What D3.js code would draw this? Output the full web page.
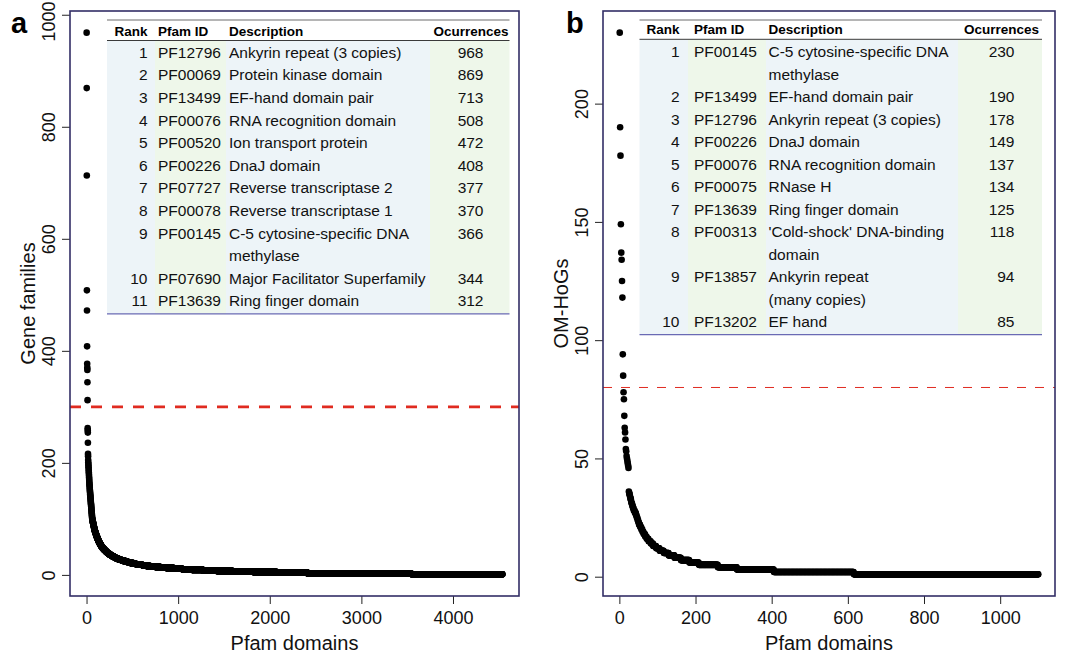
<!DOCTYPE html>
<html><head><meta charset="utf-8">
<script src="https://cdn.jsdelivr.net/npm/d3@7"></script>
<style>body{margin:0;background:#fff}svg{display:block;font-family:"Liberation Sans",Arial,sans-serif}</style>
</head><body><svg id="c" width="1072" height="655"></svg>
<script>
// ---------- DATA ----------
// Panel a: table (top 11 Pfam domains by gene families)
const tableARank = [1,2,3,4,5,6,7,8,9,10,11];
const tableAPfam = ["PF12796","PF00069","PF13499","PF00076","PF00520","PF00226","PF07727","PF00078","PF00145","PF07690","PF13639"];
const tableADesc = ["Ankyrin repeat (3 copies)","Protein kinase domain","EF-hand domain pair","RNA recognition domain","Ion transport protein","DnaJ domain","Reverse transcriptase 2","Reverse transcriptase 1","C-5 cytosine-specific DNA\nmethylase","Major Facilitator Superfamily","Ring finger domain"];
const tableAOcc = [968,869,713,508,472,408,377,370,366,344,312];
// Panel a: further ranked values visible as separate points
const extraATop = [262,258,254,236,216,212];
// Panel a: dense tail as (value, number of domains with that value)
const tailAValues = [205,201,198,195,192,189,186,183,180,177,174,171,168,165,162,160,157,155,152,150,
  148,146,144,142,140,138,136,134,132,130,128,126,124,122,120,118,116,114,112,110,108,106,104,102,100,
  99,98,97,96,95,94,93,92,91,90,89,88,87,86,85,84,83,82,81,80,
  79,78,77,76,75,74,73,72,71,70,69,68,67,66,65,64,63,62,61,60,
  59,58,57,56,55,54,53,52,51,50,
  49,48,47,46,45,44,43,42,41,40,
  39,38,37,36,35,34,33,32,31,30,
  29,28,27,26,25,24,23,22,21,20,
  19,18,17,16,15,14,13,12,11,10,
  9,8,7,6,5,4,3,2,1];
const tailACounts = [1,1,1,1,1,1,1,1,1,1,1,1,1,1,1,1,1,1,1,1,
  1,1,1,1,1,1,1,1,1,1,1,1,1,1,1,1,1,1,1,1,1,1,1,1,2,
  1,1,1,1,2,1,1,2,1,1,2,1,1,2,1,1,2,1,1,2,
  2,2,2,2,2,2,2,2,2,2,2,3,2,3,2,3,2,3,2,3,
  3,3,4,3,4,3,4,3,4,4,
  5,5,6,6,6,6,6,6,7,7,
  8,8,9,9,10,10,11,11,12,12,
  15,17,18,19,21,20,22,24,26,28,
  33,37,42,46,52,60,68,78,90,104,
  120,150,180,220,260,330,440,700,990];

// Panel b: table (top 10 Pfam domains by OM-HoGs)
const tableBRank = [1,2,3,4,5,6,7,8,9,10];
const tableBPfam = ["PF00145","PF13499","PF12796","PF00226","PF00076","PF00075","PF13639","PF00313","PF13857","PF13202"];
const tableBDesc = ["C-5 cytosine-specific DNA\nmethylase","EF-hand domain pair","Ankyrin repeat (3 copies)","DnaJ domain","RNA recognition domain","RNase H","Ring finger domain","'Cold-shock' DNA-binding\ndomain","Ankyrin repeat\n(many copies)","EF hand"];
const tableBOcc = [230,190,178,149,137,134,125,118,94,85];
const extraBTop = [78,75,68,63,61,58,54,53,51,50,49,48,47,46];
const tailBValues = [36,35,34,33,32,31,30,29,28,27,26,25,24,23,22,21,20,19,18,17,16,15,14,13,12,11,10,9,8,7,6,5,4,3,2,1];
const tailBCounts = [1,2,1,2,1,2,2,2,3,3,2,2,2,2,3,3,3,3,4,4,5,6,6,8,9,11,13,15,17,22,25,50,50,97,210,485];

// Axis ticks / labels / thresholds
const xTicksA = [0,1000,2000,3000,4000];
const yTicksA = [0,200,400,600,800,1000];
const xTicksB = [0,200,400,600,800,1000];
const yTicksB = [0,50,100,150,200];
const thresholdA = 300;
const thresholdB = 80;
const xTitle = "Pfam domains";
const yTitleA = "Gene families";
const yTitleB = "OM-HoGs";
const headers = ["Rank","Pfam ID","Description","Ocurrences"];

// ---------- DRAW ----------
const svg = d3.select("#c");
const BOX = "#322e66";
const BLUE_BG = "#edf4f8", GREEN_BG = "#eef7ea";

function expand(top, vals, counts){
  const out = top.slice();
  vals.forEach((v,i)=>{ for(let k=0;k<counts[i];k++) out.push(v); });
  return out;
}

function panel(o){
  const N = o.values.length;
  const xr = N - 1, ymax = d3.max(o.values), ymin = d3.min(o.values), yr = ymax - ymin;
  const x = d3.scaleLinear().domain([1 - 0.04*xr, N + 0.04*xr]).range([o.l, o.r]);
  const y = d3.scaleLinear().domain([ymin - 0.04*yr, ymax + 0.04*yr]).range([o.b, o.t]);
  const g = svg.append("g");

  // threshold line
  g.append("line").attr("x1",o.l).attr("x2",o.r).attr("y1",y(o.thr)).attr("y2",y(o.thr))
    .attr("stroke","#e02b20").attr("stroke-width",o.thrW).attr("stroke-dasharray",o.thrDash);

  // points
  g.append("g").selectAll("circle").data(o.values).join("circle")
    .attr("cx",(d,i)=>x(i+1)).attr("cy",d=>y(d)).attr("r",3.3).attr("fill","#000");

  // axes
  const ya = g.append("g").attr("transform",`translate(${o.l},0)`)
    .call(d3.axisLeft(y).tickValues(o.yTicks).tickSize(8).tickFormat(d3.format("d")));
  ya.select(".domain").remove();
  ya.selectAll(".tick line").attr("stroke","#222");
  ya.selectAll(".tick text").attr("transform","rotate(-90)").attr("x",0).attr("y",-15).attr("dy",0)
    .attr("text-anchor","middle").attr("font-size",18).attr("fill","#111")
    .style("font-family","'Liberation Sans',Arial,sans-serif")
    .each(function(d){
      const half = this.getComputedTextLength()/2;
      const top = y(d) - half;
      if (top < 1) d3.select(this).attr("x", -(1 - top));
    });

  const xa = g.append("g").attr("transform",`translate(0,${o.b})`)
    .call(d3.axisBottom(x).tickValues(o.xTicks).tickSize(8).tickFormat(d3.format("d")));
  xa.select(".domain").remove();
  xa.selectAll(".tick line").attr("stroke","#222");
  xa.selectAll(".tick text").attr("y",15.5).attr("dy","0.71em").attr("font-size",18).attr("fill","#111")
    .style("font-family","'Liberation Sans',Arial,sans-serif");

  // box
  g.append("rect").attr("x",o.l).attr("y",o.t).attr("width",o.r-o.l).attr("height",o.b-o.t)
    .attr("fill","none").attr("stroke",BOX).attr("stroke-width",1.6);

  // titles
  g.append("text").attr("x",(o.l+o.r)/2).attr("y",650).attr("text-anchor","middle")
    .attr("font-size",20).attr("fill","#111").text(xTitle);
  g.append("text").attr("transform",`translate(${o.l-35},${(o.t+o.b)/2}) rotate(-90)`)
    .attr("text-anchor","middle").attr("font-size",20).attr("fill","#111").text(o.yTitle);
  g.append("text").attr("x",o.letterX).attr("y",33).attr("font-size",29).attr("font-weight","bold")
    .attr("fill","#000").text(o.letter);

  // table
  const T = o.table;
  const nLines = T.desc.reduce((s,d)=>s+d.split("\n").length,0);
  const bottom = T.row0 + (nLines-1)*T.pitch + 13;
  const tg = g.append("g");
  T.cols.forEach((c,i)=>{
    tg.append("rect").attr("x",c[0]).attr("y",T.headRule).attr("width",c[1]-c[0])
      .attr("height",bottom-T.headRule).attr("fill", i%2 ? GREEN_BG : BLUE_BG);
  });
  tg.append("line").attr("x1",T.cols[0][0]).attr("x2",T.cols[3][1]).attr("y1",20).attr("y2",20)
    .attr("stroke","#6d6d6d").attr("stroke-width",1);
  tg.append("line").attr("x1",T.cols[0][0]).attr("x2",T.cols[3][1]).attr("y1",T.headRule).attr("y2",T.headRule)
    .attr("stroke","#3a3a3a").attr("stroke-width",1);
  tg.append("line").attr("x1",T.cols[0][0]).attr("x2",T.cols[3][1]).attr("y1",bottom).attr("y2",bottom)
    .attr("stroke","#6a6ab4").attr("stroke-width",1.2);
  const hy = T.headRule - 5;
  const hs = {"font-size":13.5,"font-weight":"bold","fill":"#000"};
  const ht = (x,anchor,txt)=>{ const t = tg.append("text").attr("x",x).attr("y",hy).attr("text-anchor",anchor).text(txt);
    Object.entries(hs).forEach(([k,v])=>t.attr(k,v)); };
  ht(T.rankX,"end",headers[0]); ht(T.pfamX,"start",headers[1]); ht(T.descX,"start",headers[2]); ht(T.occHX,"end",headers[3]);
  let k = 0;
  T.rank.forEach((r,i)=>{
    const by = T.row0 + k*T.pitch + 5.5;
    const st = (x,yy,anchor,txt)=>tg.append("text").attr("x",x).attr("y",yy).attr("text-anchor",anchor)
      .attr("font-size",15.5).attr("fill","#111").text(txt);
    st(T.rankX,by,"end",r); st(T.pfamX,by,"start",T.pfam[i]); st(T.occX,by,"end",T.occ[i]);
    T.desc[i].split("\n").forEach((line,j)=>{ st(T.descX, by + j*T.pitch, "start", line); });
    k += T.desc[i].split("\n").length;
  });
}

panel({
  values: expand(tableAOcc.concat(extraATop), tailAValues, tailACounts),
  l:70, r:519, t:11, b:596, xTicks:xTicksA, yTicks:yTicksA, thr:thresholdA, thrW:2.6, thrDash:"11,10",
  yTitle:yTitleA, letter:"a", letterX:11,
  table:{ rank:tableARank, pfam:tableAPfam, desc:tableADesc, occ:tableAOcc,
    cols:[[107,155],[155,226],[226,430],[430,509.5]], rankX:147.5, pfamX:158, descX:229, occHX:508.5, occX:483.5,
    headRule:40.5, row0:52.3, pitch:22.6 }
});
panel({
  values: expand(tableBOcc.concat(extraBTop), tailBValues, tailBCounts),
  l:603, r:1055, t:11, b:596, xTicks:xTicksB, yTicks:yTicksB, thr:thresholdB, thrW:1, thrDash:"9,9",
  yTitle:yTitleB, letter:"b", letterX:566,
  table:{ rank:tableBRank, pfam:tableBPfam, desc:tableBDesc, occ:tableBOcc,
    cols:[[639.5,688],[688,766],[766,958],[958,1042]], rankX:679.5, pfamX:694, descX:768.5, occHX:1039, occX:1014.5,
    headRule:39.3, row0:51.7, pitch:22.5 }
});
</script></body></html>
